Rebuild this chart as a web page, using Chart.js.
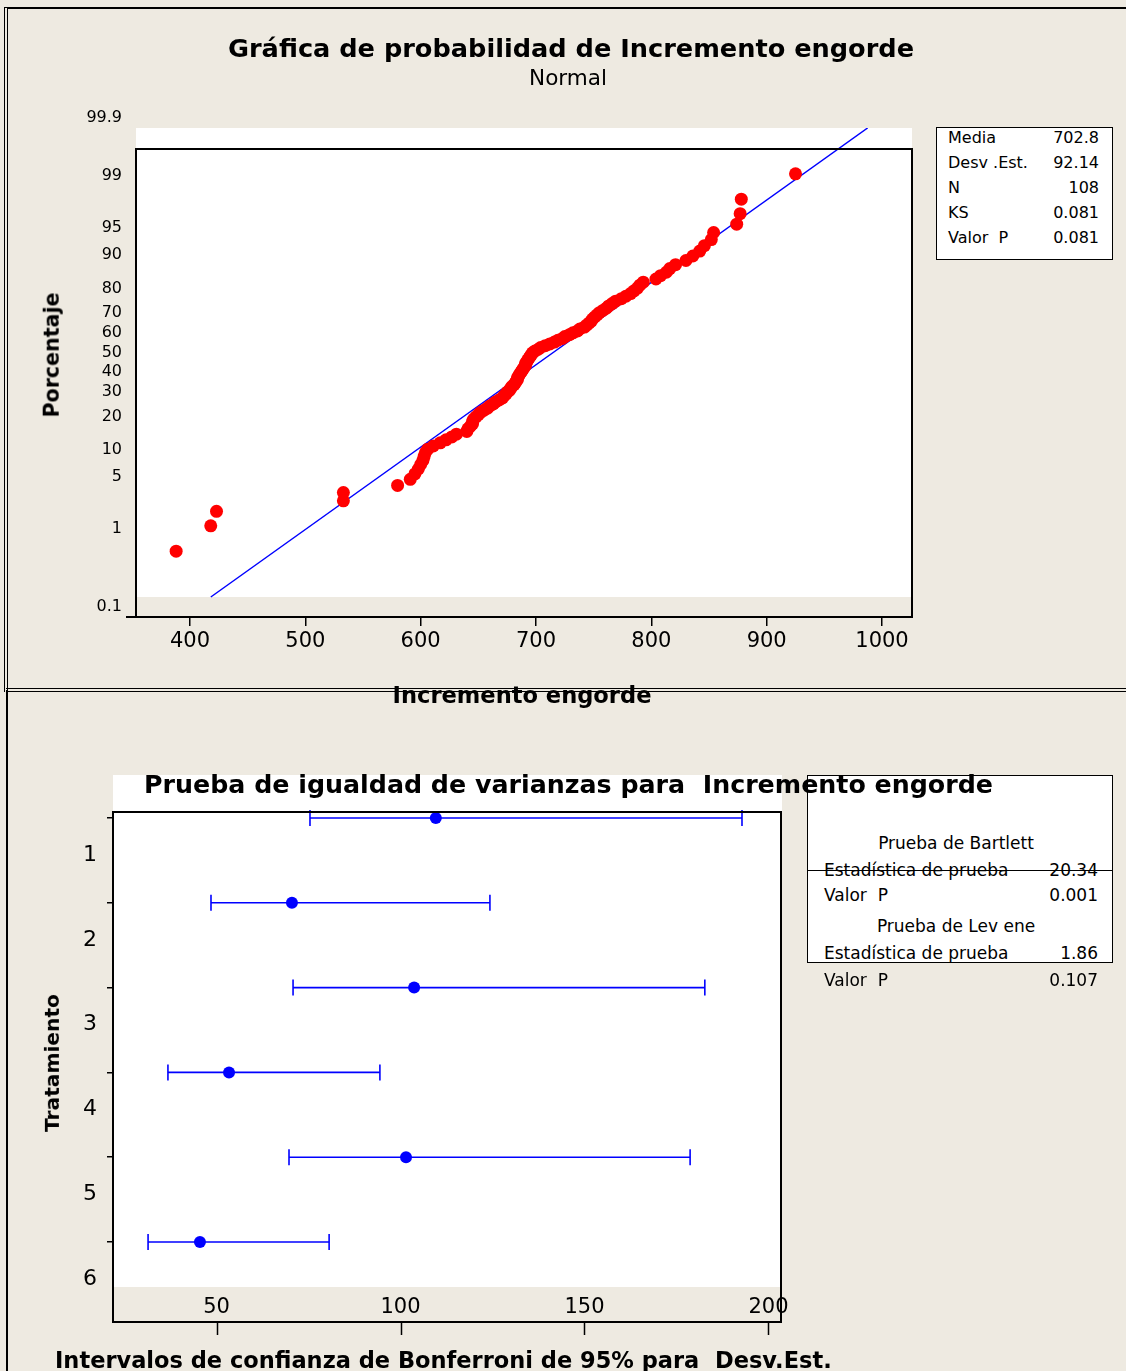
<!DOCTYPE html>
<html>
<head>
<meta charset="utf-8">
<script src="https://cdn.jsdelivr.net/npm/chart.js@4.4.1/dist/chart.umd.min.js"></script>
<style>
  body { margin: 0; background: #eeeae1; width: 1126px; height: 1371px; overflow: hidden; position: relative; font-family: "DejaVu Sans", sans-serif; color: #000; }
  .t { position: absolute; white-space: pre; line-height: 1; }
  .c { transform: translate(-50%, -50%); }
  .l { transform: translateY(-50%); }
  .r { transform: translate(-100%, -50%); }
  .v { transform: translate(-50%, -50%) rotate(-90deg); }
  .b { font-weight: bold; }
  .s16 { font-size: 16px; }
  .s17 { font-size: 17px; }
  .box { position: absolute; border: 1.5px solid #000; background: #fff; box-sizing: border-box; }
  canvas { position: absolute; left: 0; }
</style>
</head>
<body>
<!-- panel borders -->
<div style="position:absolute;left:4px;top:7px;width:1130px;height:683px;border-top:2px solid #000;border-left:4px double #000;"></div>
<div style="position:absolute;left:6px;top:688px;width:1130px;height:0;border-top:4px double #000;"></div>
<div style="position:absolute;left:6px;top:690px;width:0;height:690px;border-left:2px solid #000;"></div>

<canvas id="c1" width="1126" height="690" style="top:0"></canvas>
<canvas id="c2" width="1126" height="681" style="top:690px"></canvas>

<!-- top chart texts -->
<div class="t c b fit" data-w="686" style="left:571px;top:49px">Gráfica de probabilidad de Incremento engorde</div>
<div class="t c fit" data-w="78" style="left:568px;top:78px">Normal</div>
<div class="t v b fit" data-w="125" style="left:52px;top:355px">Porcentaje</div>
<div class="t c b fit" data-w="259" style="left:522px;top:695px">Incremento engorde</div>

<div class="box" style="left:936px;top:127px;width:177px;height:133px"></div>
<div class="t l s16" style="left:948px;top:138px">Media</div>
<div class="t r s16" style="left:1099px;top:138px">702.8</div>
<div class="t l s16" style="left:948px;top:163px">Desv .Est.</div>
<div class="t r s16" style="left:1099px;top:163px">92.14</div>
<div class="t l s16" style="left:948px;top:188px">N</div>
<div class="t r s16" style="left:1099px;top:188px">108</div>
<div class="t l s16" style="left:948px;top:213px">KS</div>
<div class="t r s16" style="left:1099px;top:213px">0.081</div>
<div class="t l s16" style="left:948px;top:238px">Valor  P</div>
<div class="t r s16" style="left:1099px;top:238px">0.081</div>

<!-- bottom chart texts -->
<div class="box" style="left:807px;top:775px;width:306px;height:188px"></div>
<div class="t l b fit" data-w="849" style="left:144px;top:785px">Prueba de igualdad de varianzas para  Incremento engorde</div>
<div class="t c s17" style="left:956px;top:843px">Prueba de Bartlett</div>
<div class="t l s17" style="left:824px;top:870px">Estadística de prueba</div>
<div class="t r s17" style="left:1098px;top:870px">20.34</div>
<div style="position:absolute;left:807px;top:870px;width:306px;height:0;border-top:1.5px solid #000"></div>
<div class="t l s17" style="left:824px;top:895px">Valor  P</div>
<div class="t r s17" style="left:1098px;top:895px">0.001</div>
<div class="t c s17" style="left:956px;top:926px">Prueba de Lev ene</div>
<div class="t l s17" style="left:824px;top:953px">Estadística de prueba</div>
<div class="t r s17" style="left:1098px;top:953px">1.86</div>
<div class="t l s17" style="left:824px;top:980px">Valor  P</div>
<div class="t r s17" style="left:1098px;top:980px">0.107</div>
<div class="t v b fit" data-w="138" style="left:52px;top:1063px">Tratamiento</div>
<div class="t l b fit" data-w="777" style="left:55px;top:1360px">Intervalos de confianza de Bonferroni de 95% para  Desv.Est.</div>

<script>
// ---- data: probability plot (sorted) ----
const incrementoEngorde = [
  388, 418, 423, 533, 533, 580, 591, 595, 598, 600,
  602, 603, 604, 606, 611, 617, 622, 627, 631, 640,
  641, 643, 645, 645, 646, 648, 650, 652, 655, 658,
  660, 663, 665, 668, 671, 672, 674, 675, 677, 678,
  679, 681, 682, 683, 684, 684, 685, 686, 687, 688,
  689, 690, 691, 691, 692, 693, 694, 695, 696, 697,
  699, 702, 704, 708, 712, 716, 719, 723, 725, 729,
  732, 736, 738, 742, 744, 746, 748, 749, 751, 753,
  755, 758, 761, 763, 766, 769, 774, 778, 782, 785,
  788, 790, 793, 804, 808, 813, 816, 821, 830, 836,
  842, 846, 852, 854, 874, 877, 878, 925
];
const media = 702.8;
const desvEst = 92.14;
const xTicks1 = [400, 500, 600, 700, 800, 900, 1000];
const pctTicks = [0.1, 1, 5, 10, 20, 30, 40, 50, 60, 70, 80, 90, 95, 99, 99.9];
const pctLabels = ['0.1', '1', '5', '10', '20', '30', '40', '50', '60', '70', '80', '90', '95', '99', '99.9'];

// ---- data: Bonferroni intervals for the std dev ----
const tratamientos = ['1', '2', '3', '4', '5', '6'];
const desvLower = [75.4, 48.5, 70.8, 36.8, 69.7, 31.4];
const desvPoint = [109.6, 70.5, 103.7, 53.4, 101.5, 45.5];
const desvUpper = [192.8, 124.3, 182.7, 94.4, 178.7, 80.6];
const xTicks2 = [50, 100, 150, 200];

const FONT = '"DejaVu Sans", sans-serif';

// size titles to the width they have in the picture
const mctx = document.createElement('canvas').getContext('2d');
document.querySelectorAll('.fit').forEach(el => {
  const bold = el.classList.contains('b') ? 'bold ' : '';
  mctx.font = bold + '100px ' + FONT;
  const w = mctx.measureText(el.textContent).width;
  el.style.fontSize = (100 * Number(el.dataset.w) / w).toFixed(2) + 'px';
});

// inverse normal cdf (Acklam)
function probit(p) {
  const a = [-3.969683028665376e+01, 2.209460984245205e+02, -2.759285104469687e+02, 1.383577518672690e+02, -3.066479806614716e+01, 2.506628277459239e+00];
  const b = [-5.447609879822406e+01, 1.615858368580409e+02, -1.556989798598866e+02, 6.680131188771972e+01, -1.328068155288572e+01];
  const c = [-7.784894002430293e-03, -3.223964580411365e-01, -2.400758277161838e+00, -2.549671010224732e+00, 4.374664141464968e+00, 2.938163982698783e+00];
  const d = [7.784695709041462e-03, 3.224671290700398e-01, 2.445134137142996e+00, 3.754408661907416e+00];
  const lo = 0.02425;
  let q, r;
  if (p < lo) {
    q = Math.sqrt(-2 * Math.log(p));
    return (((((c[0]*q+c[1])*q+c[2])*q+c[3])*q+c[4])*q+c[5]) / ((((d[0]*q+d[1])*q+d[2])*q+d[3])*q+1);
  }
  if (p > 1 - lo) {
    q = Math.sqrt(-2 * Math.log(1 - p));
    return -(((((c[0]*q+c[1])*q+c[2])*q+c[3])*q+c[4])*q+c[5]) / ((((d[0]*q+d[1])*q+d[2])*q+d[3])*q+1);
  }
  q = p - 0.5; r = q * q;
  return (((((a[0]*r+a[1])*r+a[2])*r+a[3])*r+a[4])*r+a[5])*q / (((((b[0]*r+b[1])*r+b[2])*r+b[3])*r+b[4])*r+1);
}

// median ranks, like Minitab
const n = incrementoEngorde.length;
const points = incrementoEngorde.map((v, i) => ({ x: v, y: probit((i + 1 - 0.3) / (n + 0.4)) }));
const zTop = probit(0.999);
const zBottom = -zTop - 20 / 75.89;   // frame runs a bit below the white area
const fitLine = [
  { x: media - desvEst * zTop, y: -zTop },
  { x: media + desvEst * zTop, y: zTop }
];

// ---- top chart ----
const frame1 = {
  id: 'frame1',
  beforeDraw(chart) {
    const { ctx, chartArea: a } = chart;
    ctx.save();
    ctx.fillStyle = '#fff';
    ctx.fillRect(a.left, a.top, a.right - a.left, 597 - a.top);
    ctx.restore();
  },
  afterDraw(chart) {
    const { ctx, chartArea: a } = chart;
    ctx.save();
    ctx.strokeStyle = '#000';
    ctx.lineWidth = 2;
    ctx.strokeRect(a.left, 149, a.right - a.left, a.bottom - 149);
    ctx.beginPath();
    ctx.moveTo(a.left - 10, a.bottom);
    ctx.lineTo(a.left, a.bottom);
    ctx.stroke();
    ctx.restore();
  }
};

new Chart(document.getElementById('c1'), {
  type: 'scatter',
  data: {
    datasets: [
      { data: points, backgroundColor: '#ff0000', borderWidth: 0, pointRadius: 6.5, order: 0 },
      { data: fitLine, showLine: true, borderColor: '#0000ff', borderWidth: 1.5, pointRadius: 0, order: 1 }
    ]
  },
  options: {
    responsive: false,
    animation: false,
    layout: { padding: { left: 0, top: 128, right: 214, bottom: 33 } },
    plugins: { legend: { display: false }, tooltip: { enabled: false } },
    scales: {
      x: {
        type: 'linear', min: 353.2, max: 1026,
        afterBuildTicks: s => { s.ticks = xTicks1.map(v => ({ value: v })); },
        afterFit: s => { s.height = 40; },
        border: { display: false },
        grid: { drawOnChartArea: false, tickLength: 9, color: '#000', lineWidth: 1.5 },
        ticks: { color: '#000', font: { family: FONT, size: 21 }, padding: 3, maxRotation: 0, autoSkip: false,
                 callback: v => String(v) }
      },
      y: {
        type: 'linear', min: zBottom, max: zTop,
        // 0.1 is labelled at the foot of the frame, as in the picture
        afterBuildTicks: s => { s.ticks = pctTicks.map((p, i) => ({ value: i === 0 ? zBottom : probit(p / 100) })); },
        afterFit: s => { s.width = 136; },
        border: { display: false },
        grid: { display: false, drawTicks: false },
        ticks: {
          color: '#000', font: { family: FONT, size: 16 }, padding: 14, labelOffset: -10, autoSkip: false,
          callback: (v, i) => pctLabels[i]
        }
      }
    }
  },
  plugins: [frame1]
});

// ---- bottom chart ----
const blue = '#0000ff';
const intervalSets = tratamientos.map((t, i) => ({
  data: [{ x: desvLower[i], y: i + 1 }, { x: desvUpper[i], y: i + 1 }],
  showLine: true,
  borderColor: blue,
  borderWidth: 1.6,
  pointStyle: 'line',
  pointRotation: 90,
  pointRadius: 8,
  pointBorderColor: blue,
  pointBorderWidth: 1.6,
  order: 1
}));

const frame2 = {
  id: 'frame2',
  beforeDraw(chart) {
    const { ctx, chartArea: a } = chart;
    ctx.save();
    ctx.fillStyle = '#fff';
    ctx.fillRect(a.left, a.top, a.right - a.left + 1, a.bottom - a.top);
    ctx.restore();
  },
  afterDraw(chart) {
    const { ctx, chartArea: a, scales } = chart;
    const bottom = 632;
    ctx.save();
    ctx.strokeStyle = '#000';
    ctx.lineWidth = 2;
    ctx.strokeRect(a.left, 122, a.right - a.left, bottom - 122);
    ctx.beginPath();
    xTicks2.forEach(v => {
      const px = Math.round(scales.x.getPixelForValue(v)) + 0.5;
      ctx.moveTo(px, bottom);
      ctx.lineTo(px, bottom + 13);
    });
    ctx.lineWidth = 1.5;
    ctx.stroke();
    ctx.restore();
  }
};

new Chart(document.getElementById('c2'), {
  type: 'scatter',
  data: {
    datasets: [
      ...intervalSets,
      { data: desvPoint.map((v, i) => ({ x: v, y: i + 1 })), backgroundColor: blue, borderWidth: 0, pointRadius: 6, order: 0 }
    ]
  },
  options: {
    responsive: false,
    animation: false,
    layout: { padding: { left: 0, top: 85, right: 345, bottom: 44 } },
    plugins: { legend: { display: false }, tooltip: { enabled: false } },
    scales: {
      x: {
        type: 'linear', min: 21.87, max: 203.4,
        afterBuildTicks: s => { s.ticks = xTicks2.map(v => ({ value: v })); },
        afterFit: s => { s.height = 40; },
        border: { display: false },
        grid: { display: false, drawTicks: false },
        ticks: { color: '#000', font: { family: FONT, size: 21 }, padding: 8, maxRotation: 0, autoSkip: false }
      },
      y: {
        type: 'linear', reverse: true, min: 0.4929, max: 6.5307,
        afterBuildTicks: s => { s.ticks = tratamientos.map((t, i) => ({ value: i + 1 })); },
        afterFit: s => { s.width = 113; },
        border: { display: false },
        grid: { drawOnChartArea: false, tickLength: 6, color: '#000', lineWidth: 1.5 },
        ticks: {
          color: '#000', font: { family: FONT, size: 22 }, padding: 10, labelOffset: 37, autoSkip: false,
          callback: (v, i) => tratamientos[i]
        }
      }
    }
  },
  plugins: [frame2]
});
</script>
</body>
</html>
